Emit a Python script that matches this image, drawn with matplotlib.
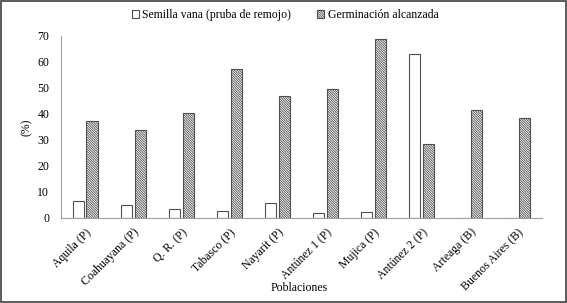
import numpy as np
import matplotlib.pyplot as plt
from matplotlib.patches import Rectangle

poblaciones = ['Aquila (P)', 'Coahuayana (P)', 'Q. R. (P)', 'Tabasco (P)', 'Nayarit (P)',
               'Antúnez 1 (P)', 'Mujica (P)', 'Antúnez 2 (P)', 'Arteaga (B)', 'Buenos Aires (B)']
semilla_vana = [6.7, 5.0, 3.6, 2.8, 5.8, 1.9, 2.3, 62.9, 0, 0]
germinacion = [37.5, 33.7, 40.3, 57.5, 47.0, 49.8, 68.9, 28.3, 41.5, 38.5]

plt.rcParams['font.family'] = 'Liberation Serif'
plt.rcParams['font.size'] = 8.5
plt.rcParams['hatch.linewidth'] = 0.6
plt.rcParams['hatch.color'] = '#404040'

fig = plt.figure(figsize=(5.67, 3.03), dpi=100)
ax = fig.add_axes([61/567, 1 - 218/303, 481/567, 182/303])

x = np.arange(len(poblaciones))
w = 0.23
ax.bar(x - 0.145, semilla_vana, w, color='white', edgecolor='#505050', linewidth=0.8,
       label='Semilla vana (pruba de remojo)')
ax.bar(x + 0.145, germinacion, w, color='white', edgecolor='#505050', linewidth=0.8,
       hatch='\\' * 14, label='Germinación alcanzada')

ax.set_xlim(-0.5, len(poblaciones) - 0.5)
ax.set_ylim(0, 70)
ax.set_yticks(range(0, 71, 10))
ax.set_xticks(x)
ax.set_xticklabels(poblaciones, rotation=45, ha='right', rotation_mode='anchor')
ax.tick_params(length=0, pad=8.5)
ax.tick_params(axis='x', pad=6)
for s in ['top', 'right']:
    ax.spines[s].set_visible(False)
for s in ['left', 'bottom']:
    ax.spines[s].set_color('#a0a0a0')
    ax.spines[s].set_linewidth(0.8)

ax.set_ylabel('(%)')
ax.yaxis.set_label_coords(-0.058, 0.5)
ax.set_xlabel('Poblaciones')
ax.xaxis.set_label_coords(0.495, -0.35)

fig.legend(loc='center', bbox_to_anchor=(285/567, 1 - 15/303), ncol=2, frameon=False,
           handlelength=0.6, handleheight=0.6, handletextpad=0.3, columnspacing=2.2,
           borderaxespad=0)

fig.patches.append(Rectangle((0.001, 0.002), 0.997, 0.995, transform=fig.transFigure,
                             fill=False, edgecolor='#404040', linewidth=1.2))

fig.savefig('out.png', dpi=100)
